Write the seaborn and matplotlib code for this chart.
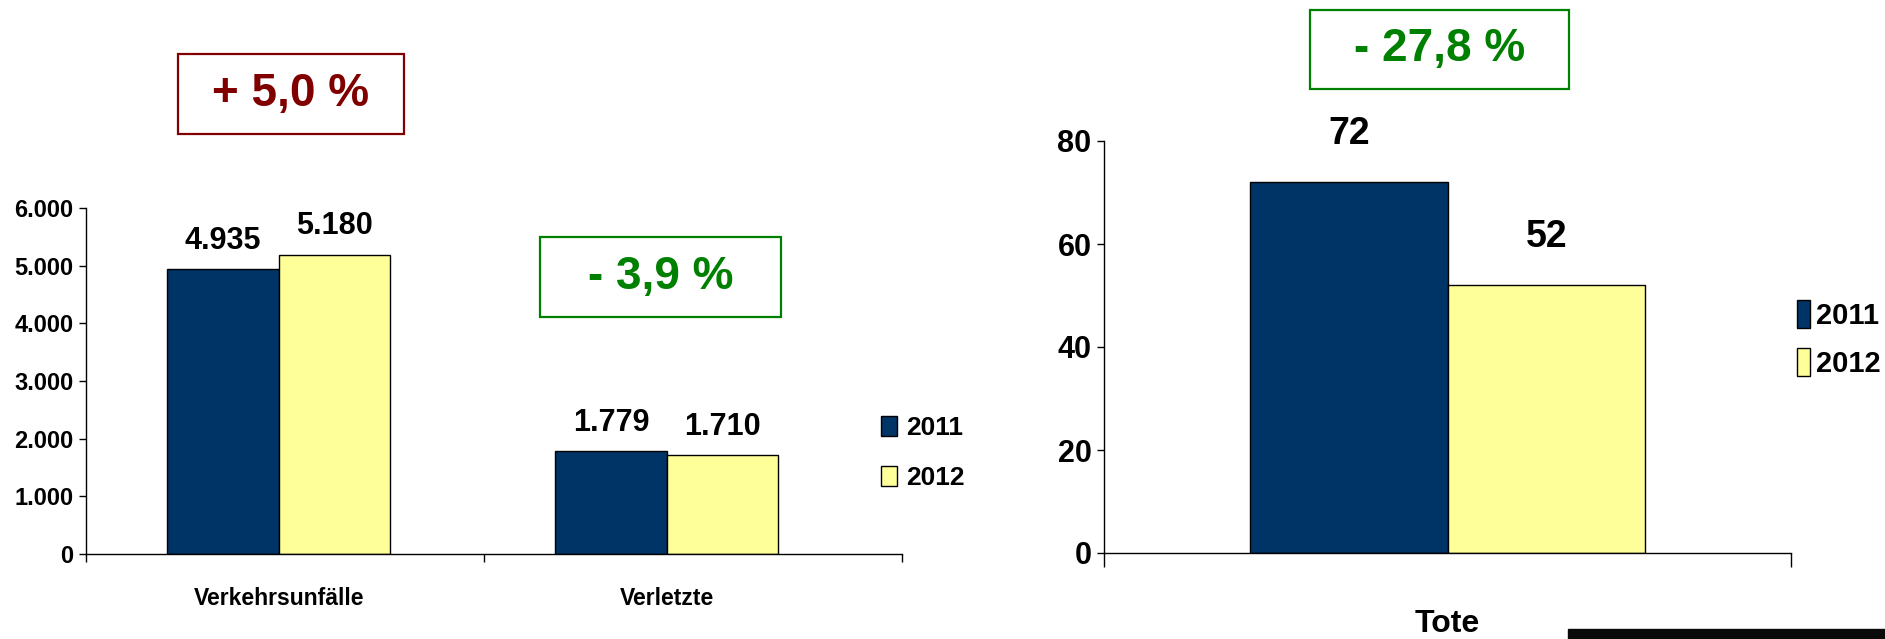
import pandas as pd
import matplotlib
matplotlib.use("Agg")
from matplotlib import pyplot as plt
from matplotlib.patches import Rectangle
from matplotlib.ticker import FuncFormatter
import seaborn as sns

# data
years = ["2011", "2012"]
left_categories = ["Verkehrsunfälle", "Verletzte"]
unfaelle = [4935, 5180]
verletzte = [1779, 1710]
right_categories = ["Tote"]
tote = [72, 52]
changes_left = ["+ 5,0 %", "- 3,9 %"]
change_right = "- 27,8 %"
left_ticks = [0, 1000, 2000, 3000, 4000, 5000, 6000]
right_ticks = [0, 20, 40, 60, 80]

navy = "#003366"
yellow = "#FFFF99"
red = "#800000"
green = "#008000"

sns.set_style("white")
plt.rcParams["font.family"] = ["Liberation Sans Narrow", "Liberation Sans", "DejaVu Sans"]
plt.rcParams["font.weight"] = "bold"
for k in ["text.color", "axes.labelcolor", "xtick.color", "ytick.color"]:
    plt.rcParams[k] = "black"

df_left = pd.DataFrame({
    "Kategorie": [left_categories[0]] * 2 + [left_categories[1]] * 2,
    "Jahr": years + years,
    "Wert": unfaelle + verletzte,
})
df_right = pd.DataFrame({
    "Kategorie": right_categories * 2,
    "Jahr": years,
    "Wert": tote,
})

W, H = 1885, 639
fig = plt.figure(figsize=(W / 100, H / 100), dpi=100)


def px_axes(x0, x1, y_top, y_bot):
    return fig.add_axes([x0 / W, 1 - y_bot / H, (x1 - x0) / W, (y_bot - y_top) / H])


def style_axes(ax, ylim, ticks, tick_size):
    ax.set_ylim(*ylim)
    ax.set_yticks(ticks)
    for s in ["top", "right"]:
        ax.spines[s].set_visible(False)
    for s in ["left", "bottom"]:
        ax.spines[s].set_color("black")
        ax.spines[s].set_linewidth(1.0)
    ax.tick_params(axis="y", direction="out", length=5, width=1, color="black",
                   labelsize=tick_size, pad=4, left=True)
    ax.set_xlabel("")
    ax.set_ylabel("")


# left chart
ax1 = px_axes(86, 902, 208, 554)
sns.barplot(data=df_left, x="Kategorie", y="Wert", hue="Jahr",
            palette=[navy, yellow], saturation=1, width=0.575, edgecolor="black",
            linewidth=1, ax=ax1, legend=True)
ax1.set_xlim(-0.497, 1.606)
style_axes(ax1, (0, 6000), left_ticks, 17)
ax1.yaxis.set_major_formatter(FuncFormatter(lambda v, p: f"{int(v):,}".replace(",", ".")))
ax1.set_xticks([-0.497, 0.53, 1.606])
ax1.set_xticklabels([])
ax1.set_xticks([0, 1], minor=True)
ax1.set_xticklabels(left_categories, minor=True, fontsize=16.5)
ax1.tick_params(axis="x", which="major", direction="out", length=6, width=1, bottom=True)
ax1.tick_params(axis="x", which="minor", length=0, pad=24)

for cont in ax1.containers:
    labels = [f"{int(b.get_height()):,}".replace(",", ".") for b in cont]
    ax1.bar_label(cont, labels=labels, padding=10, fontsize=22, fontweight="bold")

h, l = ax1.get_legend_handles_labels()
ax1.legend(h, l, loc="center left", bbox_to_anchor=(881 / W, 1 - 453 / H),
           bbox_transform=fig.transFigure, frameon=False, fontsize=19,
           handlelength=0.6, handleheight=0.8, handletextpad=0.35,
           labelspacing=0.95, borderpad=0, borderaxespad=0)

# right chart
ax2 = px_axes(1104, 1791, 141, 553)
sns.barplot(data=df_right, x="Kategorie", y="Wert", hue="Jahr",
            palette=[navy, yellow], saturation=1, width=0.575, edgecolor="black",
            linewidth=1, ax=ax2, legend=True)
ax2.set_xlim(-0.5, 0.5)
style_axes(ax2, (0, 80), right_ticks, 22)
ax2.set_xticks([-0.5, 0.5])
ax2.set_xticklabels([])
ax2.set_xticks([0], minor=True)
ax2.set_xticklabels(right_categories, minor=True, fontsize=23)
ax2.tick_params(axis="x", which="major", direction="out", length=10, width=1, bottom=True)
ax2.tick_params(axis="x", which="minor", length=0, pad=40)

for cont in ax2.containers:
    ax2.bar_label(cont, labels=[f"{int(b.get_height())}" for b in cont],
                  padding=22, fontsize=27, fontweight="bold")

h, l = ax2.get_legend_handles_labels()
ax2.legend(h, l, loc="center left", bbox_to_anchor=(1797 / W, 1 - 339 / H),
           bbox_transform=fig.transFigure, frameon=False, fontsize=21,
           handlelength=0.45, handleheight=1.1, handletextpad=0.2,
           labelspacing=0.6, borderpad=0, borderaxespad=0)


# percentage boxes
def change_box(x0, x1, y0, y1, text, color):
    fig.patches.append(Rectangle((x0 / W, 1 - y1 / H), (x1 - x0) / W, (y1 - y0) / H,
                                 transform=fig.transFigure, fill=False,
                                 edgecolor=color, linewidth=1.6))
    fig.text((x0 + x1) / 2 / W, 1 - (y0 + y1) / 2 / H, text, color=color,
             fontsize=33, fontweight="bold", ha="center", va="center",
             family=["Liberation Sans", "DejaVu Sans"])


change_box(178, 404, 54, 134, changes_left[0], red)
change_box(540, 781, 237, 317, changes_left[1], green)
change_box(1310, 1569, 10, 89, change_right, green)

# dark strip bottom right
fig.patches.append(Rectangle((1568 / W, 0), (W - 1568) / W, 10 / H,
                             transform=fig.transFigure, color="#0a0a0a"))

fig.savefig("out.png", dpi=100)
